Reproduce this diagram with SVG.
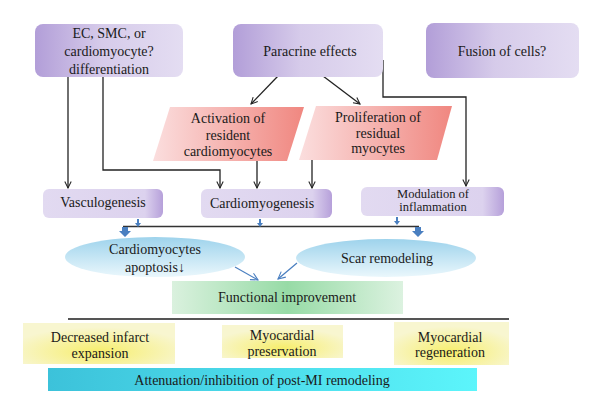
<svg xmlns="http://www.w3.org/2000/svg" width="600" height="415" viewBox="0 0 600 415" font-family="Liberation Serif, DejaVu Serif, serif">
<defs>
<linearGradient id="gPurpleTop" x1="0" y1="0" x2="1" y2="0">
<stop offset="0" stop-color="#b29ed8"/><stop offset="0.45" stop-color="#d6cbea"/><stop offset="1" stop-color="#e4ddf2"/>
</linearGradient>
<linearGradient id="gPurpleMid" x1="0" y1="0" x2="1" y2="0">
<stop offset="0" stop-color="#e2daf1"/><stop offset="0.85" stop-color="#dcd2ee"/><stop offset="1" stop-color="#b6a0da"/>
</linearGradient>
<linearGradient id="gPink" x1="0" y1="0" x2="1" y2="0">
<stop offset="0" stop-color="#fbdede"/><stop offset="1" stop-color="#f08780"/>
</linearGradient>
<linearGradient id="gBlue" x1="0" y1="0" x2="0" y2="1">
<stop offset="0" stop-color="#9ed3ec"/><stop offset="1" stop-color="#eaf7fc"/>
</linearGradient>
<linearGradient id="gGreen" x1="0" y1="0" x2="1" y2="0">
<stop offset="0" stop-color="#daf1de"/><stop offset="0.5" stop-color="#97dba6"/><stop offset="1" stop-color="#dcf2e0"/>
</linearGradient>
<radialGradient id="gYellow" cx="0.5" cy="0.7" r="0.6">
<stop offset="0" stop-color="#f7ee6c"/><stop offset="1" stop-color="#f8f6d0"/>
</radialGradient>
<linearGradient id="gCyan" x1="0" y1="0" x2="1" y2="0">
<stop offset="0" stop-color="#3cc2da"/><stop offset="1" stop-color="#5cf5fb"/>
</linearGradient>
<marker id="mBlack" viewBox="0 0 10 10" refX="9" refY="5" markerWidth="8" markerHeight="8" markerUnits="userSpaceOnUse" orient="auto">
<path d="M1,1 L9,5 L1,9" fill="none" stroke="#222" stroke-width="1.3"/>
</marker>
<marker id="mBlue" viewBox="0 0 10 10" refX="9" refY="5" markerWidth="9" markerHeight="9" markerUnits="userSpaceOnUse" orient="auto">
<path d="M1,1 L9,5 L1,9" fill="none" stroke="#4a7fc0" stroke-width="1.2"/>
</marker>
</defs>
<style>
text{font-size:14px;fill:#1a1a1a;text-anchor:middle}
.sm{font-size:12.5px}
.conn{fill:none;stroke:#222;stroke-width:1.3}
.blk{fill:#4a7fc0}
.blue{fill:none;stroke:#4a7fc0;stroke-width:1.2}
</style>
<rect width="600" height="415" fill="#fff"/>

<g id="connectors">
<path class="conn" d="M68,77 V188" marker-end="url(#mBlack)"/>
<path class="conn" d="M103,77 V170 H220 V188" marker-end="url(#mBlack)"/>
<path class="conn" d="M278,76 L251,104" marker-end="url(#mBlack)"/>
<path class="conn" d="M323,76 L360,104" marker-end="url(#mBlack)"/>
<path class="conn" d="M383,60 V97 H466 V186" marker-end="url(#mBlack)"/>
<path class="conn" d="M257,161 V188" marker-end="url(#mBlack)"/>
<path class="conn" d="M312,160 V188" marker-end="url(#mBlack)"/>
<path d="M123,226.5 H419" stroke="#333" stroke-width="1.5" fill="none"/>
<polygon class="blk" points="137,219 139,219 139,223 141,223 138,227 135,223 137,223"/>
<polygon class="blk" points="259,219 261,219 261,223 263,223 260,227 257,223 259,223"/>
<polygon class="blk" points="396,217 398,217 398,221 400,221 397,225 394,221 396,221"/>
<polygon class="blk" points="122,227 128,227 128,231 131,231 125,237 119,231 122,231"/>
<polygon class="blk" points="415,227 421,227 421,231 424,231 418,237 412,231 415,231"/>
<path class="blue" d="M235,267 L258,280" marker-end="url(#mBlue)"/>
<path class="blue" d="M297,263 L278,279" marker-end="url(#mBlue)"/>
<path d="M68,319 H509" stroke="#555" stroke-width="2" fill="none"/>
</g>

<g id="n-differentiation">
<rect x="35" y="24" width="148" height="53" rx="8" fill="url(#gPurpleTop)"/>
<text x="109" y="38">EC, SMC, or</text>
<text x="109" y="56">cardiomyocyte?</text>
<text x="109" y="74">differentiation</text>
</g>
<g id="n-paracrine">
<rect x="233" y="24" width="150" height="53" rx="8" fill="url(#gPurpleTop)"/>
<text x="310" y="56">Paracrine effects</text>
</g>
<g id="n-fusion">
<rect x="426" y="23" width="153" height="55" rx="8" fill="url(#gPurpleTop)"/>
<text x="502" y="56">Fusion of cells?</text>
</g>
<g id="n-activation">
<polygon points="170,107 304,107 287,161 153,161" fill="url(#gPink)"/>
<text x="228" y="123">Activation of</text>
<text x="228" y="140">resident</text>
<text x="228" y="156">cardiomyocytes</text>
</g>
<g id="n-proliferation">
<polygon points="316,106 452,106 437,160 299,160" fill="url(#gPink)"/>
<text x="378" y="122">Proliferation of</text>
<text x="378" y="138">residual</text>
<text x="378" y="153">myocytes</text>
</g>
<g id="n-vasculogenesis">
<rect x="43" y="189" width="120" height="29" rx="6" fill="url(#gPurpleMid)"/>
<text x="103" y="207">Vasculogenesis</text>
</g>
<g id="n-cardiomyogenesis">
<rect x="201" y="189" width="131" height="29" rx="6" fill="url(#gPurpleMid)"/>
<text x="262" y="208">Cardiomyogenesis</text>
</g>
<g id="n-modulation">
<rect x="361" y="187" width="143" height="29" rx="6" fill="url(#gPurpleMid)"/>
<text class="sm" x="433" y="198">Modulation of</text>
<text class="sm" x="433" y="211">inflammation</text>
</g>
<g id="n-apoptosis">
<ellipse cx="155" cy="257" rx="90" ry="20" fill="url(#gBlue)"/>
<text x="155" y="254">Cardiomyocytes</text>
<text x="155" y="272">apoptosis↓</text>
</g>
<g id="n-scar">
<ellipse cx="386" cy="258" rx="90" ry="19" fill="url(#gBlue)"/>
<text x="387" y="263">Scar remodeling</text>
</g>
<g id="n-functional">
<rect x="172" y="281" width="231" height="33" fill="url(#gGreen)"/>
<text x="287" y="302">Functional improvement</text>
</g>
<g id="n-decreased">
<rect x="23" y="323" width="152" height="41" fill="url(#gYellow)"/>
<text x="100" y="342">Decreased infarct</text>
<text x="100" y="358">expansion</text>
</g>
<g id="n-preservation">
<rect x="222" y="325" width="121" height="33" fill="url(#gYellow)"/>
<text x="282" y="340">Myocardial</text>
<text x="282" y="356">preservation</text>
</g>
<g id="n-regeneration">
<rect x="394" y="322" width="115" height="43" fill="url(#gYellow)"/>
<text x="450" y="342">Myocardial</text>
<text x="450" y="357">regeneration</text>
</g>
<g id="n-attenuation">
<rect x="48" y="368" width="429" height="23" fill="url(#gCyan)"/>
<text x="262" y="385">Attenuation/inhibition of post-MI remodeling</text>
</g>
</svg>
